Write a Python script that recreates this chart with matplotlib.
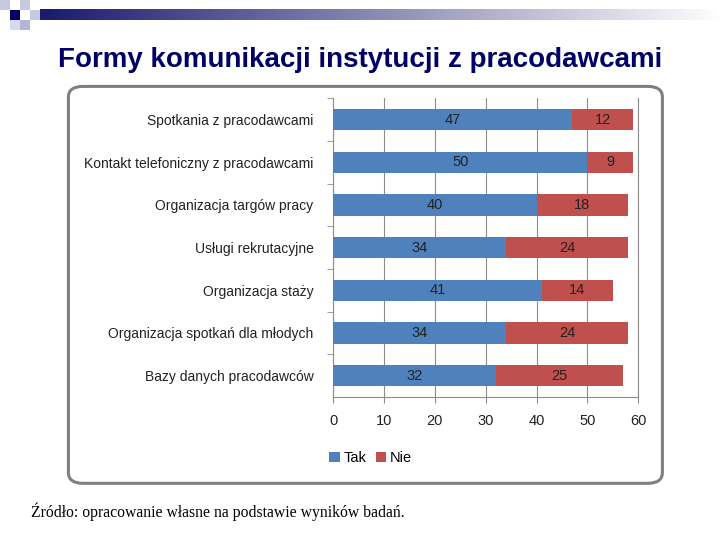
import numpy as np
import matplotlib
matplotlib.use("Agg")
from matplotlib import pyplot as plt
from matplotlib.patches import FancyBboxPatch, Rectangle
from matplotlib.colors import LinearSegmentedColormap

categories = ['Spotkania z pracodawcami', 'Kontakt telefoniczny z pracodawcami',
              'Organizacja targów pracy', 'Usługi rekrutacyjne', 'Organizacja staży',
              'Organizacja spotkań dla młodych', 'Bazy danych pracodawców']
tak = [47, 50, 40, 34, 41, 34, 32]
nie = [12, 9, 18, 24, 14, 24, 25]
xticks = [0, 10, 20, 30, 40, 50, 60]

blue = '#4F81BD'
red = '#C0504D'
narrow = 'Liberation Sans'

fig = plt.figure(figsize=(7.2, 5.4), dpi=100)

# pasek ozdobny u gory
grad = fig.add_axes([0.055, 0.963, 0.945, 0.02])
g = np.linspace(0, 1, 256).reshape(1, -1)
cmap = LinearSegmentedColormap.from_list('g', ['#1a1a6e', '#8c8cb4', '#ffffff'])
grad.imshow(g, aspect='auto', cmap=cmap)
grad.axis('off')
for (x, y, c) in [(0.014, 0.963, '#000066'), (0.028, 0.982, '#c8c8e0'), (0.0, 0.982, '#c8c8e0'),
                  (0.028, 0.944, '#b4b4d8'), (0.042, 0.963, '#c8c8e0'), (0.014, 0.944, '#d8d8ec')]:
    fig.patches.append(Rectangle((x, y), 0.014, 0.019, transform=fig.transFigure,
                                 facecolor=c, edgecolor='none'))

fig.text(0.5, 0.888, 'Formy komunikacji instytucji z pracodawcami', ha='center', va='center',
         fontsize=20, fontweight='bold', color='#000066', family='Liberation Sans')

# zaokraglona ramka
fig.patches.append(FancyBboxPatch((0.095, 0.105), 0.825, 0.735, boxstyle='round,pad=0,rounding_size=0.02',
                                  transform=fig.transFigure, facecolor='white', edgecolor='#7f7f7f',
                                  linewidth=2.2, zorder=-1))

ax = fig.add_axes([0.4625, 0.265, 0.424, 0.553])
ax.patch.set_alpha(0)
y = np.arange(len(categories))
ax.barh(y, tak, height=0.5, color=blue, label='Tak', zorder=3)
ax.barh(y, nie, left=tak, height=0.5, color=red, label='Nie', zorder=3)
for i in range(len(categories)):
    ax.text(tak[i] / 2, y[i], str(tak[i]), ha='center', va='center', fontsize=10.5, color='#222222',
            family=narrow, zorder=4)
    ax.text(tak[i] + nie[i] / 2, y[i], str(nie[i]), ha='center', va='center', fontsize=10.5, color='#222222',
            family=narrow, zorder=4)

ax.set_xlim(0, 60)
ax.set_ylim(len(categories) - 0.5, -0.5)
ax.set_xticks(xticks)
ax.set_xticklabels([str(t) for t in xticks], fontsize=10.5, color='#222222', family=narrow)
ax.set_yticks(y)
ax.set_yticklabels(categories, fontsize=10, color='#222222', family=narrow)
ax.tick_params(axis='y', length=0, pad=14)
ax.tick_params(axis='x', length=4, color='#8c8c8c', pad=8)
ax.set_yticks(np.arange(-0.5, len(categories) - 0.5, 1), minor=True)
ax.tick_params(axis='y', which='minor', length=4, color='#8c8c8c')
ax.grid(axis='x', color='#8c8c8c', linewidth=0.8, zorder=0)
ax.spines['top'].set_visible(False)
ax.spines['right'].set_color('#8c8c8c')
ax.spines['right'].set_linewidth(0.8)
ax.spines['left'].set_color('#8c8c8c')
ax.spines['bottom'].set_color('#8c8c8c')

fig.legend(loc='center', bbox_to_anchor=(0.515, 0.151), ncol=2, frameon=False,
           prop={'family': narrow, 'size': 10.5},
           handlelength=0.7, handleheight=0.7, handletextpad=0.3, columnspacing=0.6)

fig.text(0.043, 0.052, 'Źródło: opracowanie własne na podstawie wyników badań.', fontsize=11.3,
         family='Liberation Serif', ha='left', va='center')

fig.savefig('out.png', dpi=100)
